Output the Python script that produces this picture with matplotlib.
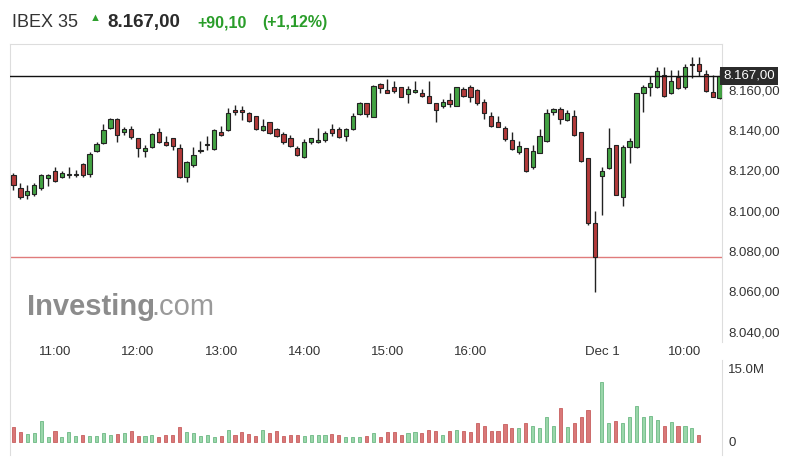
import numpy as np
import matplotlib.pyplot as plt
from matplotlib.lines import Line2D

plt.rcParams['font.family'] = ['Liberation Sans', 'DejaVu Sans']

# 5-minute candles, index 0 = 10:30 (day 1) ... index 102 = 10:25 (Dec 1)
opens = [8117.7, 8111.4, 8107.7, 8108.2, 8111.4, 8116.0, 8119.7, 8116.8, 8117.5, 8117.5,
         8123.0, 8118.0, 8129.6, 8133.4, 8140.8, 8145.5, 8138.9, 8140.5, 8135.9, 8129.6,
         8131.7, 8138.9, 8134.2, 8135.9, 8130.9, 8116.8, 8122.6, 8129.4, 8132.6, 8130.4,
         8139.2, 8140.0, 8150.0, 8149.2, 8148.6, 8147.0, 8139.8, 8144.1, 8140.3, 8138.0,
         8135.9, 8130.9, 8126.5, 8134.2, 8134.2, 8135.0, 8140.3, 8140.3, 8137.0, 8140.3,
         8147.9, 8153.2, 8146.6, 8162.8, 8160.0, 8161.5, 8161.2, 8158.0, 8159.0, 8158.5,
         8156.9, 8153.2, 8151.9, 8154.9, 8152.0, 8160.2, 8161.5, 8159.9, 8154.0, 8147.0,
         8144.1, 8140.8, 8135.0, 8129.3, 8130.9, 8121.5, 8128.7, 8134.7, 8148.9, 8150.3,
         8144.9, 8147.0, 8139.2, 8126.0, 8093.7, 8117.4, 8121.0, 8132.6, 8106.9, 8131.7,
         8131.7, 8158.6, 8161.3, 8161.5, 8167.5, 8158.2, 8166.3, 8161.5, 8172.3, 8172.9,
         8167.9, 8159.0, 8155.7]
highs = [8118.5, 8113.5, 8112.7, 8113.5, 8118.0, 8118.0, 8121.8, 8119.7, 8121.8, 8120.0,
         8123.5, 8129.2, 8134.2, 8142.8, 8145.8, 8145.8, 8141.7, 8142.0, 8136.2, 8132.6,
         8138.4, 8140.8, 8137.2, 8136.2, 8132.9, 8124.6, 8131.7, 8134.7, 8137.0, 8140.3,
         8142.0, 8150.8, 8152.4, 8151.9, 8149.1, 8147.0, 8145.3, 8144.1, 8140.8, 8139.2,
         8137.5, 8132.1, 8135.4, 8136.2, 8140.8, 8139.5, 8143.0, 8141.3, 8140.8, 8148.6,
         8154.0, 8153.6, 8162.3, 8163.5, 8165.2, 8164.5, 8161.5, 8161.8, 8164.5, 8160.2,
         8164.5, 8153.2, 8155.2, 8158.2, 8161.5, 8161.2, 8162.3, 8160.2, 8155.2, 8149.1,
         8147.0, 8142.0, 8139.2, 8134.7, 8130.9, 8132.6, 8140.3, 8150.3, 8150.8, 8151.3,
         8149.9, 8149.9, 8139.2, 8126.0, 8099.8, 8121.5, 8140.8, 8132.6, 8132.6, 8135.9,
         8158.6, 8162.3, 8166.8, 8171.3, 8171.3, 8169.6, 8169.6, 8172.9, 8176.2, 8176.2,
         8169.6, 8167.4, 8169.6]
lows = [8110.2, 8105.7, 8105.8, 8107.5, 8110.0, 8112.0, 8114.4, 8116.0, 8116.3, 8116.5,
        8116.8, 8116.8, 8129.2, 8132.9, 8140.5, 8134.2, 8137.6, 8135.5, 8126.8, 8126.8,
        8131.2, 8133.4, 8132.2, 8130.1, 8116.3, 8114.0, 8121.9, 8128.4, 8130.0, 8130.0,
        8137.0, 8139.7, 8147.4, 8145.1, 8144.1, 8140.0, 8139.7, 8138.2, 8136.7, 8133.0,
        8131.4, 8127.1, 8126.0, 8133.0, 8133.7, 8134.2, 8137.0, 8136.2, 8134.7, 8140.0,
        8147.4, 8146.6, 8146.6, 8158.6, 8158.3, 8158.6, 8156.5, 8153.5, 8158.3, 8156.5,
        8153.2, 8144.1, 8150.8, 8151.3, 8152.0, 8156.2, 8154.0, 8152.4, 8145.3, 8141.3,
        8141.3, 8134.7, 8130.1, 8128.1, 8119.3, 8120.5, 8128.4, 8134.2, 8147.4, 8143.0,
        8144.6, 8137.0, 8124.1, 8093.0, 8059.8, 8097.8, 8120.5, 8107.7, 8102.3, 8123.5,
        8131.0, 8148.9, 8156.9, 8161.0, 8156.5, 8157.7, 8160.2, 8160.6, 8165.8, 8166.8,
        8158.8, 8156.5, 8155.4]
closes = [8112.7, 8106.9, 8109.7, 8112.7, 8117.7, 8117.7, 8114.7, 8118.5, 8118.0, 8117.9,
          8117.7, 8128.0, 8132.9, 8140.0, 8145.5, 8137.5, 8140.3, 8136.7, 8130.9, 8131.2,
          8137.9, 8133.9, 8132.6, 8132.2, 8116.8, 8124.0, 8127.6, 8129.8, 8133.1, 8140.0,
          8137.5, 8148.3, 8148.9, 8149.0, 8144.6, 8140.3, 8142.0, 8138.7, 8137.0, 8133.9,
          8132.1, 8127.6, 8134.2, 8135.9, 8134.4, 8138.7, 8138.7, 8136.7, 8140.3, 8147.0,
          8153.6, 8147.9, 8161.8, 8160.7, 8158.6, 8159.5, 8156.5, 8160.2, 8160.0, 8156.9,
          8153.5, 8149.9, 8154.0, 8152.9, 8161.2, 8156.9, 8156.5, 8153.2, 8148.3, 8142.0,
          8141.6, 8135.4, 8130.4, 8132.1, 8119.8, 8129.7, 8137.0, 8148.6, 8150.3, 8145.3,
          8148.3, 8137.5, 8124.6, 8094.0, 8076.9, 8119.8, 8130.9, 8107.7, 8131.7, 8134.7,
          8158.2, 8161.2, 8163.3, 8169.1, 8156.9, 8164.3, 8160.8, 8171.1, 8173.0, 8169.1,
          8159.2, 8156.5, 8167.0]
# volume in millions (no bar for the closing auction and the last three candles)
volumes = [2.95, 2.0, 1.6, 1.7, 4.25, 0.9, 2.2, 0.9, 2.0, 1.23,
           1.37, 1.17, 1.17, 1.7, 1.37, 1.5, 1.7, 2.2, 1.17, 1.17,
           1.43, 1.0, 1.37, 1.43, 2.95, 1.9, 1.7, 1.17, 1.37, 1.0,
           1.1, 2.4, 1.37, 1.9, 1.5, 1.17, 2.4, 1.7, 2.2, 1.17,
           1.37, 1.3, 1.1, 1.37, 1.43, 1.37, 1.5, 1.43, 1.0, 0.9,
           1.0, 1.1, 1.7, 1.0, 2.0, 2.0, 1.37, 1.7, 2.0, 1.7,
           2.4, 2.2, 1.37, 2.25, 2.4, 2.2, 2.05, 3.8, 3.2, 2.2,
           2.2, 3.55, 2.75, 2.75, 3.8, 3.2, 2.75, 5.0, 3.2, 6.85,
           2.95, 3.8, 5.0, 6.5, np.nan, 12.3, 3.8, 4.25, 3.8, 5.0,
           7.3, 5.0, 5.3, 4.45, 3.2, 4.0, 3.2, 3.2, 2.75, 1.37]

time_ticks = [6, 18, 30, 42, 54, 66, 85, 97]
time_labels = ['11:00', '12:00', '13:00', '14:00', '15:00', '16:00', 'Dec 1', '10:00']
price_ticks = [8040, 8060, 8080, 8100, 8120, 8140, 8160]
last_price = 8167.0
prev_close = 8076.9

W, H = 798, 459
fig = plt.figure(figsize=(W / 100, H / 100), dpi=100)

o = np.array(opens)
c = np.array(closes)
x = np.arange(len(o))
up = c >= o
body_col = np.where(up, '#43a343', '#b33a3a')

ax = fig.add_axes([10 / W, 1 - 342 / H, 712 / W, 298 / H])
ax.vlines(x, lows, highs, color='#222222', lw=1, zorder=2)
body = np.maximum(np.abs(c - o), 0.7)
ax.bar(x, body, bottom=np.minimum(o, c), width=0.62, color=body_col,
       edgecolor='#222222', linewidth=0.8, zorder=3)
ax.axhline(last_price, color='#111111', lw=1, zorder=4)
ax.axhline(prev_close, color='#e07b7b', lw=1, zorder=1)

ax.set_xlim(-0.5, 102.35)
ax.set_ylim(8034.8, 8182.7)
ax.set_xticks(time_ticks)
ax.set_xticklabels(time_labels)
ax.set_yticks(price_ticks)
ax.set_yticklabels([f'8.{p - 8000:03d},00' for p in price_ticks])
ax.yaxis.tick_right()
ax.tick_params(axis='x', length=0, pad=3, labelsize=9.5, labelcolor='#333333')
ax.tick_params(axis='y', length=0, pad=4.5, labelsize=9.5, labelcolor='#333333')
for s in ['top', 'left', 'right']:
    ax.spines[s].set_color('#dddddd')
ax.spines['bottom'].set_visible(False)

ax.text(1.0015, last_price, '8.167,00', transform=ax.get_yaxis_transform(),
        ha='left', va='center', fontsize=9.5, color='white', zorder=6,
        bbox=dict(boxstyle='square,pad=0.22', fc='#2b2b2b', ec='none'))

# watermark
ax.text(0.024, 0.09, 'Investing', transform=ax.transAxes, fontsize=21,
        fontweight='bold', color='#8c8c8c', va='baseline')
ax.text(0.198, 0.09, '.com', transform=ax.transAxes, fontsize=21,
        color='#9a9a9a', va='baseline')

# volume pane
axv = fig.add_axes([10 / W, 1 - 455 / H, 712 / W, 95 / H], sharex=ax)
vol_col = np.where(up, '#9ad6aa', '#d97878')
vol_edge = np.where(up, '#6cb883', '#c85e5e')
axv.bar(x[:len(volumes)], volumes, width=0.45, color=vol_col[:len(volumes)],
        edgecolor=vol_edge[:len(volumes)], linewidth=0.6)
axv.set_ylim(-2.72, 16.7)
axv.set_yticks([0, 15])
axv.set_yticklabels(['0', '15.0M'])
axv.yaxis.tick_right()
axv.tick_params(axis='y', length=0, pad=4.5, labelsize=9.5, labelcolor='#333333')
axv.tick_params(axis='x', length=0, labelbottom=False)
for s in ['top', 'bottom']:
    axv.spines[s].set_visible(False)
for s in ['left', 'right']:
    axv.spines[s].set_color('#dddddd')

# left border through the time-label strip
fig.add_artist(Line2D([10 / W, 10 / W], [1 - 342 / H, 1 - 360 / H], color='#dddddd', lw=0.8))

# header
fig.text(12 / W, 1 - 27 / H, 'IBEX 35', fontsize=13, color='#333333', va='baseline')
fig.text(95 / W, 1 - 21 / H, '\u25B2', fontsize=8, color='#2ea02e', va='baseline', ha='center')
fig.text(107 / W, 1 - 27 / H, '8.167,00', fontsize=13.5, fontweight='bold',
         color='#2b2b2b', va='baseline')
fig.text(197 / W, 1 - 27 / H, '+90,10', fontsize=11.5, fontweight='bold',
         color='#2a9d2a', va='baseline')
fig.text(262 / W, 1 - 27 / H, '(+1,12%)', fontsize=11.5, fontweight='bold',
         color='#2a9d2a', va='baseline')

fig.savefig('out.png', dpi=100)
